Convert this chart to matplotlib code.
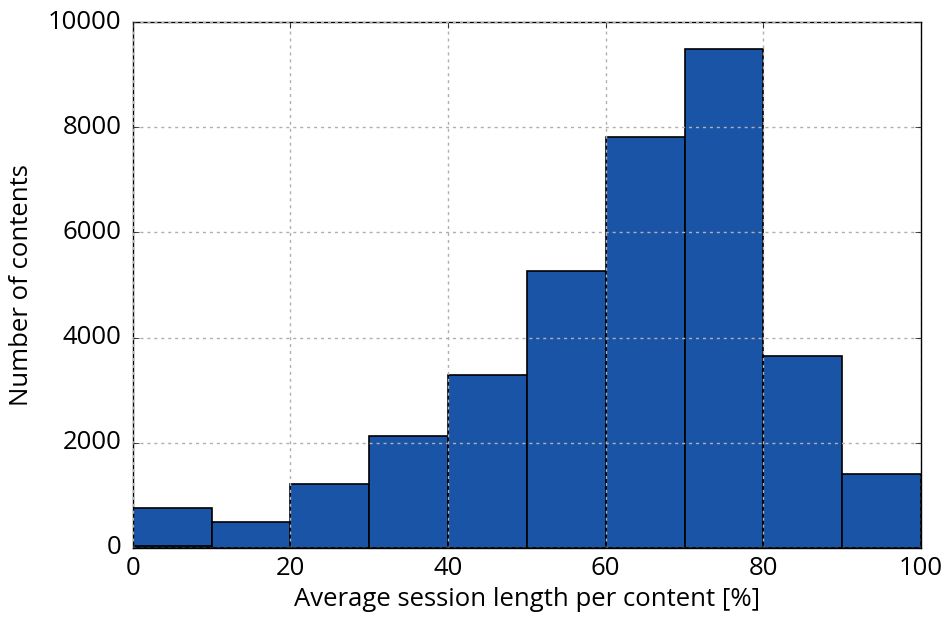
import numpy as np
import matplotlib
matplotlib.use("Agg")
import matplotlib.pyplot as plt

# Histogram of average session length per content
bin_edges = np.arange(0, 101, 10)
counts = [760, 490, 1220, 2130, 3290, 5270, 7820, 9480, 3650, 1410]
# small sub-bar visible at the bottom of the first bin
first_bin_extra = [30]

plt.style.use("classic")
plt.rcParams["font.family"] = ["Open Sans", "DejaVu Sans"]
fig = plt.figure(figsize=(9.49, 6.18), dpi=100)
ax = fig.add_axes([0.140, 0.1133, 0.8305, 0.8511])

ax.hist(bin_edges[:-1], bins=bin_edges, weights=counts,
        color="#1954a6", edgecolor="black", linewidth=1.2)
ax.hist(bin_edges[:1], bins=bin_edges[:2], weights=first_bin_extra,
        color="#1954a6", edgecolor="black", linewidth=1.2)

ax.set_xlim(0, 100)
ax.set_ylim(0, 10000)
ax.set_xticks(np.arange(0, 101, 20))
ax.set_yticks(np.arange(0, 10001, 2000))
ax.grid(True, color="#b0b0b0", linestyle=(0, (2.2, 2.8)), linewidth=1)
ax.set_axisbelow(False)
ax.tick_params(axis="y", labelsize=18.5, pad=8)
ax.tick_params(axis="x", labelsize=18.5, pad=6)
ax.set_xlabel("Average session length per content [%]", fontsize=18.5, labelpad=4)
ax.set_ylabel("Number of contents", fontsize=18.5, labelpad=10)

fig.savefig("out.png", dpi=100)
